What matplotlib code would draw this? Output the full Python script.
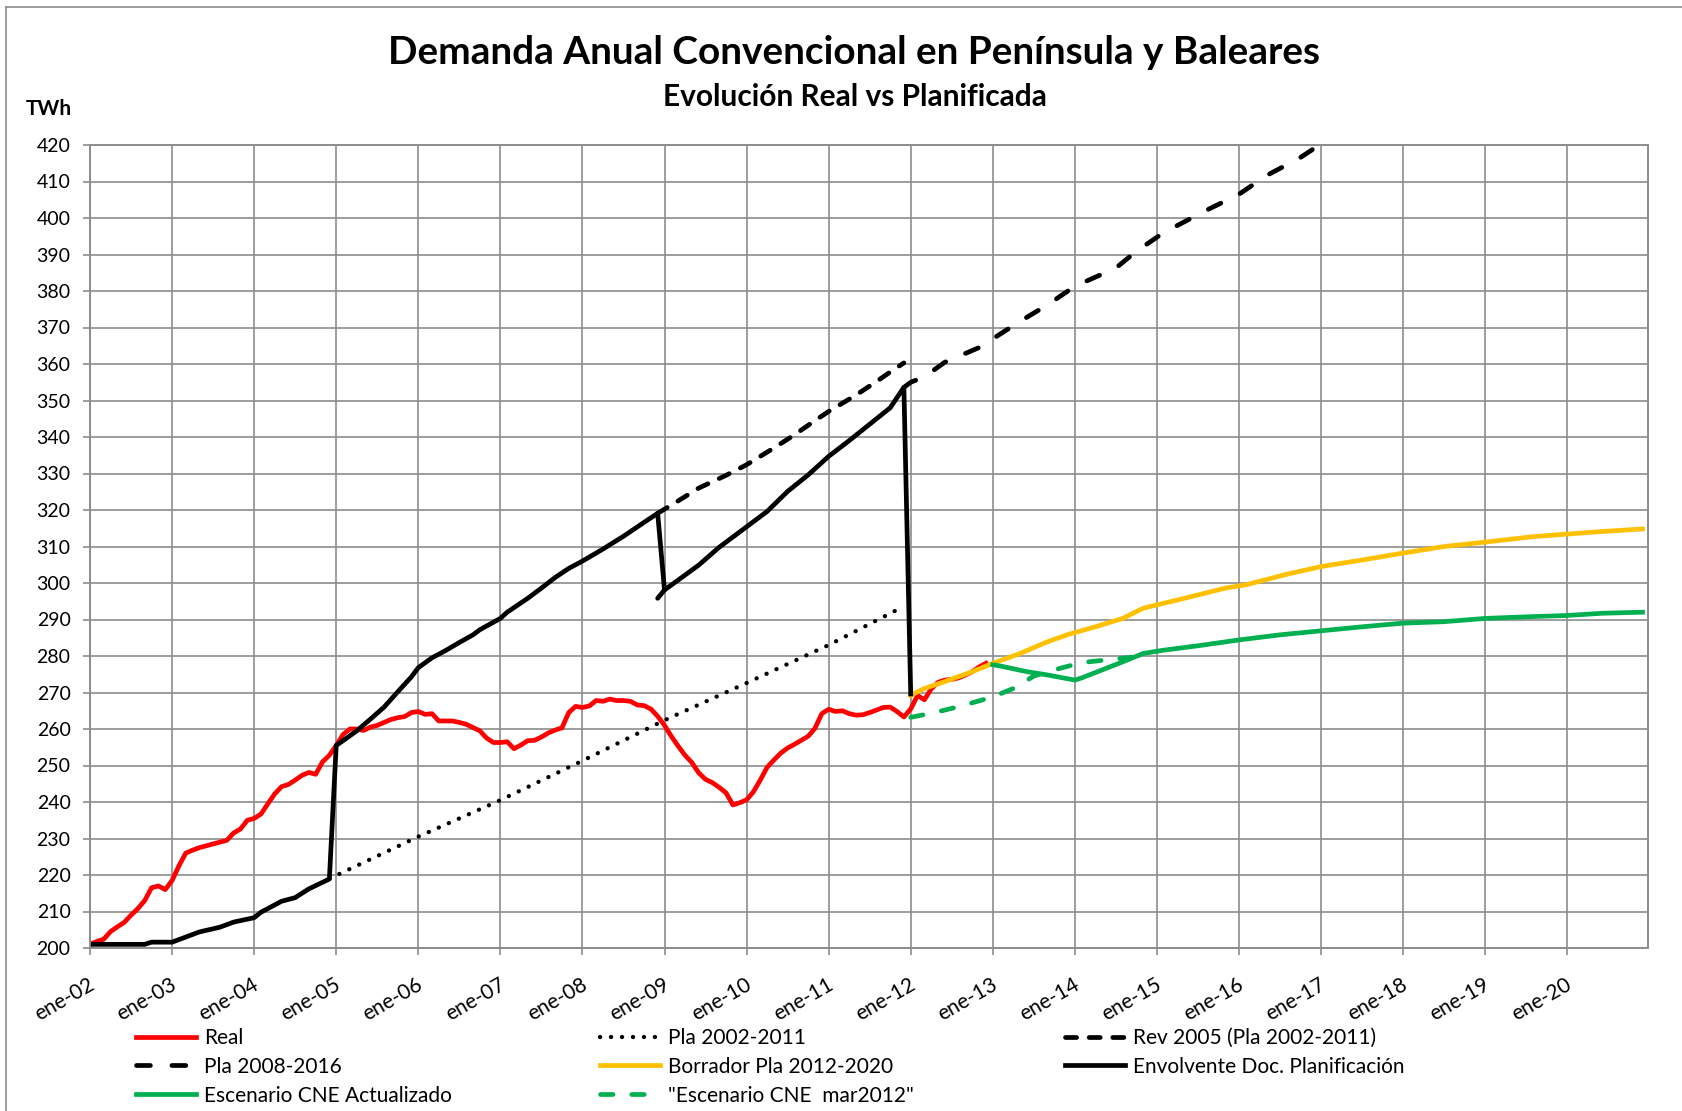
import numpy as np
import matplotlib.pyplot as plt
import matplotlib.transforms as mtransforms
from matplotlib.lines import Line2D

plt.rcParams['font.family'] = ['Lato', 'DejaVu Sans']
plt.rcParams['lines.scale_dashes'] = False

# meses contados desde ene-02 (0 = enero 2002)
real_twh = [201.0, 201.8, 202.4, 204.5, 205.8, 207.0, 209.0, 210.8, 213.0, 216.5,
            217.0, 216.0, 218.5, 222.5, 226.0, 226.8, 227.5, 228.0, 228.5, 229.0,
            229.5, 231.5, 232.6, 235.0, 235.5, 236.7, 239.5, 242.2, 244.2, 244.8,
            246.0, 247.3, 248.1, 247.6, 251.0, 252.8, 255.5, 258.5, 260.0, 260.0,
            259.6, 260.5, 261.0, 261.8, 262.6, 263.1, 263.4, 264.5, 264.8, 264.0,
            264.2, 262.2, 262.2, 262.2, 261.8, 261.3, 260.4, 259.5, 257.5, 256.3,
            256.3, 256.5, 254.6, 255.6, 256.8, 256.9, 257.8, 258.9, 259.7, 260.3,
            264.5, 266.2, 265.9, 266.3, 267.8, 267.6, 268.2, 267.8, 267.8, 267.6,
            266.6, 266.4, 265.5, 263.5, 261.0, 258.0, 255.3, 252.8, 250.8, 248.0,
            246.2, 245.3, 244.0, 242.5, 239.2, 239.8, 240.6, 242.8, 246.0, 249.5,
            251.5, 253.4, 254.8, 255.8, 256.9, 258.0, 260.2, 264.2, 265.4, 264.8,
            265.0, 264.2, 263.8, 263.9, 264.5, 265.2, 265.9, 266.0, 264.8, 263.3,
            265.5, 269.2, 268.0, 271.0, 272.8, 273.4, 273.6, 274.0, 274.8, 275.7,
            277.0, 278.0]
real_mes = list(range(len(real_twh)))

pla0211_mes = [35, 48, 60, 72, 84, 96, 108, 119]
pla0211_twh = [219.0, 230.5, 240.5, 251.3, 262.4, 272.6, 283.0, 293.6]

rev2005_mes = [83, 86, 89, 93, 96, 100, 103, 106, 108, 112, 115, 117, 119]
rev2005_twh = [319.1, 322.5, 326.0, 329.5, 332.4, 337.0, 340.6, 344.5, 347.0,
               351.5, 355.2, 357.8, 360.3]

pla0816_mes = [83, 84, np.nan, 119, 120, 122, 125, 130, 136, 140, 144, 150, 153,
               157, 163, 168, 172, 177, 180]
pla0816_twh = [295.8, 298.1, np.nan, 353.6, 355.0, 356.5, 360.5, 364.5, 371.7,
               376.2, 381.3, 386.3, 390.9, 396.0, 401.9, 406.5, 411.6, 416.6, 420.3]

borrador_mes = [120, 121, 122, 125, 129, 132, 136, 140, 143, 147, 151, 154, 160,
                166, 169, 175, 180, 186, 192, 198, 204, 211, 216, 221, 227]
borrador_twh = [269.2, 270.2, 271.1, 273.0, 275.7, 278.0, 280.7, 283.9, 285.9,
                288.0, 290.3, 293.1, 295.8, 298.6, 299.5, 302.4, 304.5, 306.3,
                308.2, 310.0, 311.2, 312.7, 313.4, 314.1, 314.8]

envolvente_mes = [0, 8, 9, 12, 14, 16, 19, 21, 24, 25, 28, 30, 32, 35, 36, 37, 39,
                  41, 43, 45, 47, 48, 50, 52, 54, 56, 57, 60, 61, 64, 66, 68, 70,
                  72, 75, 78, 81, 83, 84, 86, 89, 92, 96, 99, 102, 105, 108, 111,
                  114, 117, 119, 120]
envolvente_twh = [201.0, 201.0, 201.6, 201.6, 203.0, 204.4, 205.7, 207.1, 208.3,
                  209.8, 212.8, 213.8, 216.2, 218.9, 255.5, 256.8, 259.5, 262.7,
                  266.0, 270.2, 274.3, 276.8, 279.5, 281.5, 283.7, 285.8, 287.2,
                  290.3, 292.0, 295.8, 298.6, 301.5, 304.0, 306.0, 309.3, 312.8,
                  316.6, 319.1, 298.1, 300.8, 304.9, 309.8, 315.4, 319.6, 325.1,
                  329.6, 334.7, 339.0, 343.5, 348.0, 353.6, 269.6]

cne_act_mes = [132, 133, 137, 140, 144, 145, 148, 151, 154, 157, 162, 168, 174,
               180, 186, 192, 198, 204, 211, 216, 221, 227]
cne_act_twh = [277.6, 277.3, 275.7, 274.8, 273.4, 274.0, 276.2, 278.4, 280.7,
               281.6, 282.8, 284.4, 285.8, 286.9, 288.0, 289.0, 289.4, 290.3,
               290.8, 291.1, 291.7, 292.0]

cne_mar_mes = [120, 123, 127, 132, 135, 138, 141, 145, 151, 153]
cne_mar_twh = [263.2, 264.3, 266.1, 268.8, 271.1, 274.5, 276.2, 278.2, 279.4, 279.8]

anios = ['ene-%02d' % a for a in range(2, 21)]

W, H = 1682, 1111
fig = plt.figure(figsize=(W / 100, H / 100), dpi=100)
ax = fig.add_axes([90 / W, 1 - 948 / H, (1648 - 90) / W, (948 - 145) / H])

lw = 3.4
l_real, = ax.plot(real_mes, real_twh, color='#ff0000', lw=lw, label='Real',
                  solid_joinstyle='round')
l_pla02, = ax.plot(pla0211_mes, pla0211_twh, color='black', lw=3.1,
                   dashes=(0.1, 7.8), dash_capstyle='round', label='Pla 2002-2011')
l_rev, = ax.plot(rev2005_mes, rev2005_twh, color='black', lw=lw, dashes=(8.0, 9.0),
                 dash_capstyle='round', label='Rev 2005 (Pla 2002-2011)')
l_pla08, = ax.plot(pla0816_mes, pla0816_twh, color='black', lw=lw, dashes=(10.0, 15.5),
                   dash_capstyle='round', label='Pla 2008-2016')
l_borr, = ax.plot(borrador_mes, borrador_twh, color='#ffc000', lw=lw,
                  label='Borrador Pla 2012-2020', solid_joinstyle='round')
l_env, = ax.plot(envolvente_mes, envolvente_twh, color='black', lw=lw,
                 label='Envolvente Doc. Planificación', solid_joinstyle='round')
l_act, = ax.plot(cne_act_mes, cne_act_twh, color='#00b050', lw=lw,
                 label='Escenario CNE Actualizado', solid_joinstyle='round')
l_mar, = ax.plot(cne_mar_mes, cne_mar_twh, color='#00b050', lw=lw, dashes=(9.0, 13.5),
                 dash_capstyle='round', label='"Escenario CNE  mar2012"')

ax.set_xlim(0, 227.8)
ax.set_ylim(200, 420)
ax.set_yticks(np.arange(200, 421, 10))
ax.set_xticks(np.arange(0, 217, 12))
ax.set_xticklabels(anios, rotation=30, ha='right')
ax.grid(True, color='#8c8c8c', lw=1.2)
ax.set_axisbelow(True)
for s in ax.spines.values():
    s.set_color('#8c8c8c')
    s.set_linewidth(1.4)
ax.tick_params(axis='both', colors='#8c8c8c', labelcolor='black', length=5,
               width=1.2, labelsize=14)
ax.tick_params(axis='x', labelsize=15, pad=14)
ax.tick_params(axis='y', pad=9)
off = mtransforms.ScaledTranslation(8 / 100, 0, fig.dpi_scale_trans)
for lab in ax.get_xticklabels():
    lab.set_transform(lab.get_transform() + off)

fig.text(854 / W, 1 - 64 / H, 'Demanda Anual Convencional en Península y Baleares',
         ha='center', va='baseline', fontsize=27.9, fontweight='bold')
fig.text(855 / W, 1 - 106 / H, 'Evolución Real vs Planificada', ha='center',
         va='baseline', fontsize=21.5, fontweight='bold')
fig.text(26 / W, 1 - 115 / H, 'TWh', ha='left', va='baseline', fontsize=15,
         fontweight='bold')

cols = [([l_real, l_pla08, l_act], 136), ([l_pla02, l_borr, l_mar], 600),
        ([l_rev, l_env], 1065)]
for hs, x0 in cols:
    fig.legend(handles=hs, loc='upper left', bbox_to_anchor=(x0 / W, 1 - 1028 / H),
               frameon=False, fontsize=15, handlelength=2.9, handletextpad=0.35,
               labelspacing=0.42, borderpad=0, borderaxespad=0)

# borde del gráfico
fig.add_artist(Line2D([6 / W, 1], [1 - 7 / H, 1 - 7 / H], color='#8c8c8c', lw=1.2))
fig.add_artist(Line2D([6 / W, 6 / W], [0, 1 - 7 / H], color='#8c8c8c', lw=1.2))

fig.savefig('out.png', dpi=100)
